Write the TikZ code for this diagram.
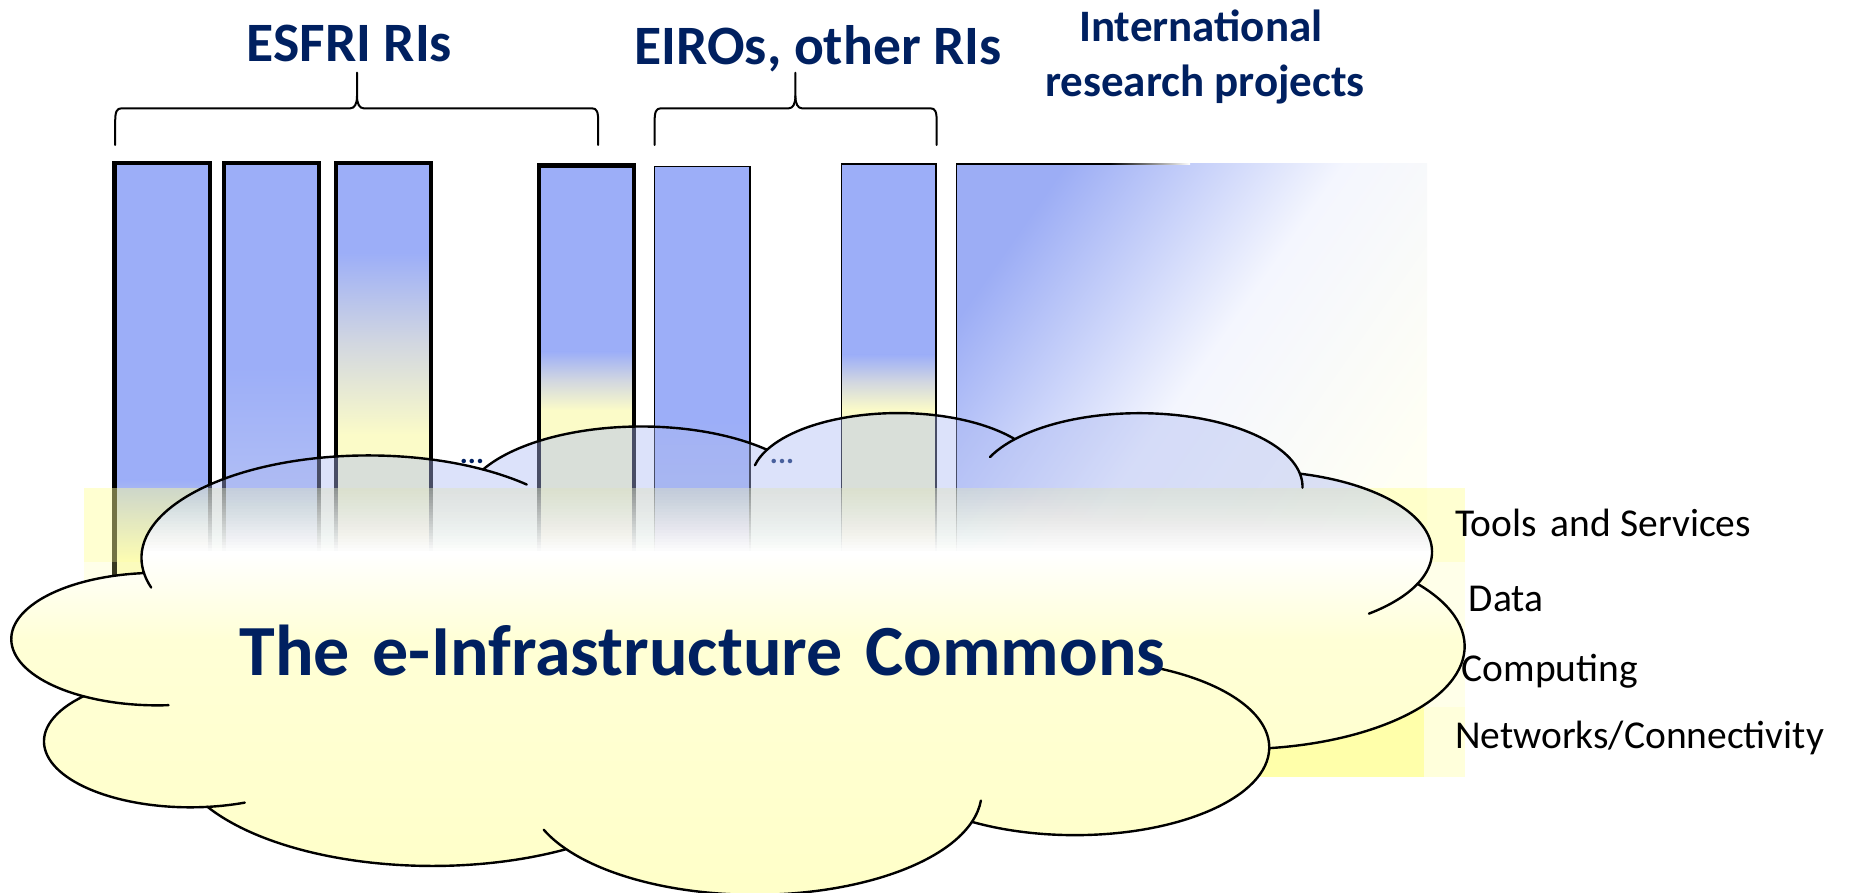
\documentclass[tikz,border=0pt]{standalone}
\usepackage{fontspec}
\setmainfont{Carlito}
\definecolor{navy}{HTML}{002060}
\definecolor{barblue}{HTML}{9CAEF8}
\definecolor{barlight}{HTML}{BCC7F3}
\definecolor{barlightb}{HTML}{B4BFE6}
\definecolor{bargray}{HTML}{D2D7E0}
\definecolor{baryel}{HTML}{FBFBC8}
\definecolor{regblue}{HTML}{9CADF5}
\definecolor{regmid}{HTML}{F4F6FE}
\definecolor{paleyel}{HTML}{FFFFF4}
\definecolor{cloudblue}{HTML}{ACB9F2}
\definecolor{cream}{HTML}{FFFFD6}
\definecolor{creamdeep}{HTML}{FFFFC8}
\definecolor{bandyel}{HTML}{FFFF99}
% visual angle -> parametric angle of an ellipse
\newcommand\cldang[3]{\pgfmathparse{(#3)+mod(atan2((#1)*sin(#3),(#2)*cos(#3))-(#3)+540,360)-180}}
\newcommand\cldset[5]{%
  \cldang{#2}{#3}{#4}\expandafter\xdef\csname cld#1s\endcsname{\pgfmathresult}%
  \cldang{#2}{#3}{(#4)+(#5)}\expandafter\xdef\csname cld#1e\endcsname{\pgfmathresult}}
\cldset{A}{675.3}{919.0}{-190.4875}{123.7805}
\cldset{B}{533.3}{726.7}{-144.1024}{89.9452}
\cldset{C}{436.5}{594.5}{-145.8079}{99.7230}
\cldset{D}{485.7}{659.5}{-130.9861}{117.2417}
\cldset{E}{533.3}{727.3}{-78.7089}{109.0269}
\cldset{F}{677.5}{922.0}{-46.2673}{130.2690}
\cldset{G}{578.5}{786.7}{0.6250}{114.0333}
\cldset{H}{675.2}{921.5}{22.4516}{115.1726}
\cldset{I}{772.0}{1054.3}{66.2426}{75.7110}
\cldset{J}{436.0}{591.8}{-274.9421}{146.7356}
\cldset{K}{434.5}{594.5}{-246.8285}{152.5189}
\cldset{ha}{434.5}{594.5}{-246.8285}{-26.4295}
\cldset{hb}{436.0}{591.8}{-274.9421}{-11.4475}
\cldset{hc}{675.2}{921.5}{137.6242}{14.0811}
\cldset{hd}{675.2}{921.5}{22.4516}{-15.9983}
\cldset{he}{578.5}{786.7}{0.6250}{-70.9174}
\cldset{hf}{533.3}{727.3}{30.3180}{27.7515}
\cldset{hg}{485.7}{659.5}{-13.7444}{14.8589}
\cldset{hh}{485.7}{659.5}{-130.9861}{-18.1954}
\cldset{hi}{436.5}{594.5}{-145.8079}{-17.6864}
\cldset{hj}{675.3}{919.0}{-66.7070}{12.3194}
\cldset{hk}{675.3}{919.0}{-190.4875}{-11.9}
\newcommand\cldmain{(390,1437) coordinate (vKA)
 arc[start angle=\cldAs,end angle=\cldAe,x radius=675.3,y radius=919.0] coordinate (vAB)
 arc[start angle=\cldBs,end angle=\cldBe,x radius=533.3,y radius=726.7] coordinate (vBC)
 arc[start angle=\cldCs,end angle=\cldCe,x radius=436.5,y radius=594.5] coordinate (vCD)
 arc[start angle=\cldDs,end angle=\cldDe,x radius=485.7,y radius=659.5] coordinate (vDE)
 arc[start angle=\cldEs,end angle=\cldEe,x radius=533.3,y radius=727.3] coordinate (vEF)
 arc[start angle=\cldFs,end angle=\cldFe,x radius=677.5,y radius=922.0] coordinate (vFG)
 arc[start angle=\cldGs,end angle=\cldGe,x radius=578.5,y radius=786.7] coordinate (vGH)
 arc[start angle=\cldHs,end angle=\cldHe,x radius=675.2,y radius=921.5] coordinate (vHI)
 arc[start angle=\cldIs,end angle=\cldIe,x radius=772.0,y radius=1054.3] coordinate (vIJ)
 arc[start angle=\cldJs,end angle=\cldJe,x radius=436.0,y radius=591.8] coordinate (vJK)
 arc[start angle=\cldKs,end angle=\cldKe,x radius=434.5,y radius=594.5] -- cycle}
\begin{document}
\begin{tikzpicture}[x=1pt,y=-1pt,
  cloudcs/.style={shift={(12.5pt,-411.5pt)},x=0.3360pt,y=-0.111458pt},
  cloudline/.style={draw=black,line width=2.4pt,line join=round,line cap=round},
  thickbar/.style={draw=black,line width=4.3pt,line join=miter},
  thinbar/.style={draw=black,line width=1.5pt},
  bracestyle/.style={draw=black,line width=2pt,line cap=round,line join=round},
  titlefont/.style={text=navy,inner sep=0pt,anchor=base,font=\bfseries\fontsize{55.6}{62}\selectfont},
  subtitlefont/.style={text=navy,inner sep=0pt,anchor=base,font=\bfseries\fontsize{45}{52}\selectfont},
  layerlabel/.style={text=black,inner sep=0pt,anchor=base west,font=\fontsize{39.5}{44}\selectfont},
  dotsfont/.style={text=navy,inner sep=0pt,anchor=base,font=\bfseries\fontsize{30}{34}\selectfont},
  maintext/.style={text=navy,inner sep=0pt,anchor=base west,font=\bfseries\fontsize{72}{80}\selectfont}]
\useasboundingbox (0,0) rectangle (1849,893);

% international research projects region
\fill[top color=regblue, bottom color=paleyel, middle color=regmid, shading angle=55] (956.3,164) rectangle (1427,600);
\fill[black] (955.55,163.3) rectangle (1110,164.8);
\fill[left color=black, right color=white] (1109.5,163.3) rectangle (1190,164.8);
\draw[thinbar] (956.3,163.3) -- (956.3,600);

% bar 1
\fill[barblue] (114.5,162.8) rectangle (210,480);
\fill[top color=barblue, bottom color=baryel] (114.5,479.5) rectangle (210,560);
\fill[baryel] (114.5,559.5) rectangle (210,590);
\draw[thickbar] (114.5,162.8) rectangle (210,590);
% bar 2
\fill[barblue] (224,162.8) rectangle (319.3,367);
\fill[top color=barblue, bottom color=barlight] (224,366.5) rectangle (319.3,560);
\fill[barlight] (224,559.5) rectangle (319.3,590);
\draw[thickbar] (224,162.8) rectangle (319.3,590);
% bar 3
\fill[barblue] (336,162.8) rectangle (431,253);
\fill[top color=barblue, bottom color=baryel, middle color=bargray] (336,252.5) rectangle (431,435);
\fill[baryel] (336,434.5) rectangle (431,590);
\draw[thickbar] (336,162.8) rectangle (431,590);
% bar 4
\fill[barblue] (539,165.5) rectangle (634,352);
\fill[top color=barblue, bottom color=baryel, middle color=bargray] (539,351.5) rectangle (634,410);
\fill[baryel] (539,409.5) rectangle (634,590);
\draw[thickbar] (539,165.5) rectangle (634,590);
% bar 5
\fill[barblue] (654.3,166.4) rectangle (749.8,420);
\fill[top color=barblue, bottom color=barlightb] (654.3,419.5) rectangle (749.8,590);
\draw[thinbar] (654.3,166.4) rectangle (749.8,590);
% bar 6
\fill[barblue] (841.5,164) rectangle (936,355);
\fill[top color=barblue, bottom color=baryel, middle color=bargray] (841.5,354.5) rectangle (936,410);
\fill[baryel] (841.5,409.5) rectangle (936,590);
\draw[thinbar] (841.5,164) rectangle (936,590);

% braces
\draw[bracestyle] (115.2,145) -- (115.2,122) .. controls (115.2,112) and (116.5,108.3) .. (121.5,108.3)
  -- (350.4,108.3) .. controls (354.5,108.3) and (357,104) .. (357,96) -- (357,72.7);
\draw[bracestyle] (357,96) .. controls (357,104) and (359.5,108.3) .. (363.6,108.3)
  -- (592,108.3) .. controls (597,108.3) and (598.2,112) .. (598.2,122) -- (598.2,145);
\draw[bracestyle] (654.6,145) -- (654.6,122) .. controls (654.6,112) and (655.9,108.3) .. (660.9,108.3)
  -- (788.8,108.3) .. controls (792.9,108.3) and (795.4,104) .. (795.4,96) -- (795.4,72.7);
\draw[bracestyle] (795.4,96) .. controls (795.4,104) and (797.9,108.3) .. (802,108.3)
  -- (930.5,108.3) .. controls (935.5,108.3) and (936.7,112) .. (936.7,122) -- (936.7,145);

% titles
\node[titlefont] (esfri) at (349.4,61.7) {ESFRI RIs};
\node[titlefont] (eiros) at (818.1,65) {EIROs, other RIs};
\node[subtitlefont] (intl1) at (1200.8,41.7) {International};
\node[subtitlefont] (intl2) at (1205.1,96.7) {research projects};

% ellipses between bars
\node[dotsfont] (dotsa) at (472,463) {...};
\node[dotsfont] (dotsb) at (782,463) {...};

% layer band
\fill[bandyel, fill opacity=0.45] (84.2,488.3) rectangle (1464.5,561.7);
\fill[bandyel, fill opacity=0.22] (84.2,561.7) rectangle (1464.5,706.7);
\fill[bandyel, fill opacity=0.35] (84.2,706.7) rectangle (1464.5,776.7);
\fill[bandyel, fill opacity=0.75] (84.2,706.7) rectangle (1424.2,776.7);

% cloud fill
\begin{scope}
  \clip[cloudcs] \cldmain;
  \fill[cloudblue, fill opacity=0.42] (0,400) rectangle (1500,560);
  \foreach \k in {1,...,22}{
    \pgfmathsetmacro\yk{488+3*(\k-1)}
    \pgfmathsetmacro\ak{1/(23-\k)}
    \fill[white, fill opacity=\ak] (0,\yk) rectangle (1500,560);
  }
  \fill[top color=white, bottom color=cream] (0,553) rectangle (1500,640);
  \fill[top color=cream, bottom color=creamdeep] (0,639.5) rectangle (1500,900);
\end{scope}
% cloud outline
\draw[cloudline,cloudcs] \cldmain;
\draw[cloudline,cloudcs] (vJK) arc[start angle=\cldhas,end angle=\cldhae,x radius=434.5,y radius=594.5];
\draw[cloudline,cloudcs] (vIJ) arc[start angle=\cldhbs,end angle=\cldhbe,x radius=436.0,y radius=591.8];
\draw[cloudline,cloudcs] (vHI) arc[start angle=\cldhcs,end angle=\cldhce,x radius=675.2,y radius=921.5];
\draw[cloudline,cloudcs] (vGH) arc[start angle=\cldhds,end angle=\cldhde,x radius=675.2,y radius=921.5];
\draw[cloudline,cloudcs] (vFG) arc[start angle=\cldhes,end angle=\cldhee,x radius=578.5,y radius=786.7];
\draw[cloudline,cloudcs] (vEF) arc[start angle=\cldhfs,end angle=\cldhfe,x radius=533.3,y radius=727.3];
\draw[cloudline,cloudcs] (vDE) arc[start angle=\cldhgs,end angle=\cldhge,x radius=485.7,y radius=659.5];
\draw[cloudline,cloudcs] (vCD) arc[start angle=\cldhhs,end angle=\cldhhe,x radius=485.7,y radius=659.5];
\draw[cloudline,cloudcs] (vBC) arc[start angle=\cldhis,end angle=\cldhie,x radius=436.5,y radius=594.5];
\draw[cloudline,cloudcs] (vAB) arc[start angle=\cldhjs,end angle=\cldhje,x radius=675.3,y radius=919.0];
\draw[cloudline,cloudcs] (vKA) arc[start angle=\cldhks,end angle=\cldhke,x radius=675.3,y radius=919.0];

% texts
\node[maintext] (commons) at (239.3,675) {\makebox[926pt][s]{The\hfill e-Infrastructure\hfill Commons}};
\node[layerlabel] (tools) at (1455,536.7) {Tools\hspace{5pt} and Services};
\node[layerlabel] (data) at (1468.5,611.7) {Data};
\node[layerlabel] (computing) at (1461.5,681.7) {Computing};
\node[layerlabel] (networks) at (1455,748.3) {Networks/Connectivity};
\end{tikzpicture}
\end{document}
